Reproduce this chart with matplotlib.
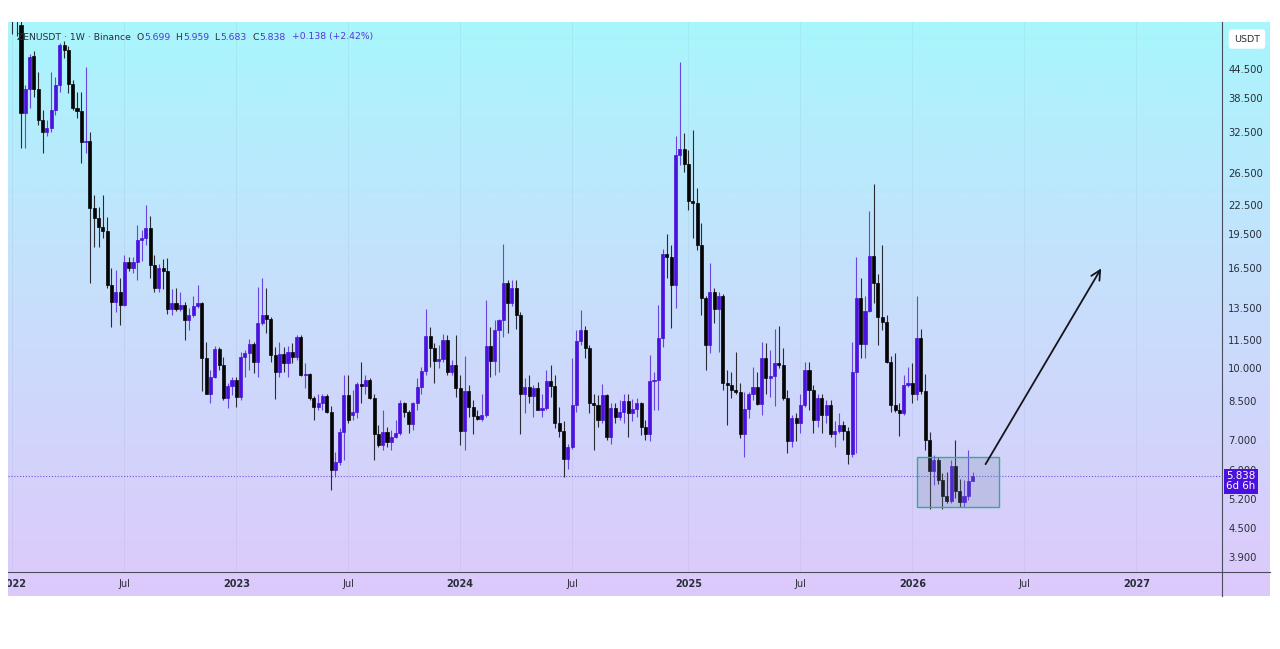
import numpy as np
import pandas as pd
import matplotlib
matplotlib.use("Agg")
import matplotlib.pyplot as plt
import matplotlib.dates as mdates
import matplotlib.transforms as mtransforms
from matplotlib.patches import Rectangle
from matplotlib.lines import Line2D
from matplotlib.ticker import NullLocator

# ---------------- data ----------------
dates = pd.date_range("2022-01-03", periods=224, freq="7D")

opens = [62, 58, 55.5, 35.7, 40.2, 47.4, 40.2, 34.5, 32.4, 33.1,
         36.2, 41.0, 50.1, 48.8, 41.2, 36.6, 36.0, 30.9, 31.0, 22.2,
         21.1, 20.2, 19.8, 15.1, 13.9, 14.6, 13.7, 17.0, 16.5, 17.0,
         18.9, 19.1, 20.1, 16.7, 14.9, 16.5, 16.2, 13.4, 13.8, 13.4,
         13.7, 12.7, 13.05, 13.6, 13.8, 10.5, 8.8, 9.58, 10.97, 10.15,
         8.6, 9.16, 9.42, 8.66, 10.55, 10.8, 11.3, 10.3, 12.5, 13.0,
         12.8, 10.67, 9.8, 10.75, 10.27, 10.85, 10.55, 11.65, 9.66, 9.7,
         8.6, 8.22, 8.4, 8.7, 8.04, 6.01, 6.27, 7.28, 8.74, 7.9,
         8.05, 9.24, 9.15, 9.42, 8.6, 7.2, 6.81, 7.28, 6.92, 7.1,
         7.25, 8.38, 8.04, 7.56, 8.38, 9.08, 9.87, 11.73, 11.03, 10.37,
         10.47, 11.5, 9.82, 10.15, 9.03, 7.31, 8.94, 8.25, 7.87, 7.75,
         7.9, 11.16, 10.37, 12.1, 12.7, 15.3, 13.8, 14.9, 13.03, 8.8,
         9.1, 8.7, 9.03, 8.11, 8.2, 9.38, 9.14, 7.6, 7.31, 6.34,
         6.75, 8.31, 11.46, 12.1, 11.03, 8.38, 8.31, 7.72, 8.74, 7.08,
         8.2, 7.84, 8.04, 8.49, 7.99, 8.15, 8.4, 7.47, 7.2, 9.38,
         9.42, 11.6, 17.65, 17.4, 15.13, 28.9, 29.8, 27.7, 23.0, 22.8,
         18.5, 14.2, 11.22, 14.6, 13.4, 14.3, 9.27, 9.2, 8.96, 8.86,
         7.2, 8.15, 8.78, 9.1, 8.36, 10.5, 9.5, 9.62, 10.27, 10.15,
         8.6, 6.94, 7.78, 7.6, 8.31, 9.9, 8.96, 7.7, 8.6, 7.91,
         8.31, 7.2, 7.31, 7.53, 7.31, 6.51, 9.82, 14.2, 11.27, 13.3,
         17.5, 15.3, 12.9, 12.6, 10.33, 8.31, 8.11, 8.0, 9.19, 9.27,
         8.8, 11.6, 8.94, 7.0, 5.99, 6.32, 5.72, 5.28, 5.14, 6.13,
         5.42, 5.12, 5.28, 5.699]

highs = [68, 61, 56.5, 41.0, 47.9, 48.6, 43.8, 36.2, 34.5, 43.8,
         42.7, 50.6, 51.0, 49.9, 42.0, 39.6, 39.6, 44.9, 32.4, 23.7,
         22.3, 23.7, 21.2, 16.5, 16.3, 15.7, 17.6, 17.4, 17.4, 20.4,
         19.9, 22.6, 21.4, 17.6, 16.8, 17.2, 17.3, 14.8, 14.9, 14.6,
         13.9, 13.5, 14.3, 15.1, 13.9, 11.4, 9.9, 11.15, 11.1, 10.55,
         9.27, 9.58, 9.58, 10.85, 10.94, 11.55, 11.4, 15.0, 15.65, 14.9,
         12.9, 11.1, 11.4, 11.1, 11.15, 11.35, 11.8, 11.8, 10.25, 9.75,
         8.7, 8.8, 8.8, 8.8, 8.27, 6.59, 7.4, 9.64, 9.64, 8.96,
         9.34, 10.33, 9.64, 9.5, 8.8, 7.53, 8.11, 7.47, 7.34, 7.72,
         8.52, 8.45, 8.11, 8.45, 9.5, 10.07, 13.4, 12.28, 11.33, 11.22,
         11.88, 11.79, 10.41, 11.79, 9.64, 10.62, 9.19, 8.52, 8.11, 8.8,
         14.04, 12.28, 12.7, 12.8, 18.6, 15.55, 15.5, 15.55, 13.2, 9.5,
         9.66, 9.19, 9.34, 8.78, 9.9, 10.15, 9.64, 8.25, 7.66, 6.86,
         10.5, 12.09, 13.35, 12.34, 11.22, 8.8, 8.74, 9.24, 8.8, 8.38,
         8.38, 8.52, 8.8, 8.78, 8.55, 8.6, 8.45, 7.72, 10.67, 9.82,
         13.7, 18.1, 19.5, 18.5, 31.9, 46.0, 32.3, 29.7, 32.8, 24.5,
         20.6, 14.3, 16.85, 14.9, 14.6, 14.5, 9.9, 9.82, 10.85, 9.27,
         8.86, 8.86, 10.07, 9.82, 11.4, 11.33, 10.94, 12.13, 12.34, 11.03,
         8.96, 7.91, 7.98, 8.8, 10.33, 10.33, 9.19, 8.8, 8.8, 8.52,
         8.52, 7.66, 7.98, 7.66, 7.47, 11.4, 17.4, 15.65, 14.3, 21.9,
         25.0, 16.0, 18.5, 13.03, 10.6, 10.8, 8.38, 9.64, 10.07, 10.25,
         14.3, 12.15, 9.7, 7.28, 6.48, 6.42, 5.93, 5.95, 6.32, 6.98,
         5.74, 5.72, 6.64, 5.959]

lows = [53, 52.5, 30.0, 30.0, 36.6, 38.6, 33.6, 29.2, 31.8, 32.4,
        35.3, 39.6, 47.0, 39.4, 36.2, 34.8, 27.8, 29.2, 15.3, 18.3,
        18.3, 19.1, 14.9, 12.3, 13.2, 12.4, 13.6, 16.2, 16.1, 15.5,
        17.1, 18.5, 15.7, 14.6, 14.6, 14.8, 13.1, 13.0, 13.3, 13.3,
        11.5, 12.1, 12.9, 13.5, 8.9, 8.78, 8.38, 9.5, 9.9, 8.52,
        8.18, 8.74, 8.25, 8.52, 9.58, 9.9, 9.74, 9.55, 12.4, 11.9,
        10.33, 8.55, 9.58, 9.82, 9.58, 10.25, 10.4, 9.6, 9.05, 8.52,
        7.7, 8.11, 8.11, 8.0, 5.44, 5.8, 6.16, 6.32, 7.6, 7.7,
        7.79, 8.38, 8.8, 8.55, 6.32, 6.75, 6.64, 6.75, 6.64, 7.05,
        7.16, 7.84, 7.22, 7.34, 8.11, 8.8, 9.64, 10.07, 9.27, 9.98,
        10.33, 9.66, 9.66, 8.67, 6.81, 6.64, 7.84, 7.2, 7.7, 7.66,
        7.84, 9.58, 9.66, 9.8, 11.7, 11.9, 13.6, 12.15, 7.2, 8.0,
        8.38, 7.82, 8.11, 7.84, 8.11, 8.67, 7.4, 7.1, 5.8, 6.03,
        6.67, 8.04, 11.22, 10.5, 8.0, 6.64, 7.47, 7.6, 7.0, 6.86,
        7.62, 7.72, 7.6, 7.1, 7.66, 7.84, 7.16, 6.98, 6.94, 8.11,
        8.11, 11.1, 15.65, 12.2, 13.5, 27.5, 26.6, 22.0, 19.1, 18.0,
        13.03, 9.9, 10.76, 12.5, 10.85, 8.96, 7.53, 8.6, 8.8, 7.04,
        6.42, 7.78, 8.52, 8.31, 7.91, 8.8, 8.67, 8.27, 10.0, 8.52,
        6.55, 6.75, 6.94, 7.22, 8.25, 8.11, 7.22, 7.47, 7.22, 7.6,
        7.1, 6.75, 7.22, 6.98, 6.21, 6.42, 6.55, 10.5, 10.5, 13.2,
        13.8, 11.22, 12.1, 10.25, 8.04, 8.04, 7.12, 7.91, 9.1, 8.38,
        8.52, 8.8, 6.64, 4.96, 5.58, 5.61, 4.96, 5.09, 5.09, 5.22,
        5.01, 5.0, 5.18, 5.683]

closes = [58, 57.5, 35.7, 40.2, 47.2, 40.2, 34.5, 32.4, 33.1, 36.2,
          41.0, 50.1, 48.8, 41.2, 36.6, 36.0, 30.9, 31.0, 22.2, 21.1,
          20.2, 19.8, 15.1, 13.9, 14.6, 13.7, 17.0, 16.5, 17.0, 18.9,
          19.1, 20.1, 16.7, 14.9, 16.5, 16.2, 13.4, 13.8, 13.4, 13.7,
          12.7, 13.05, 13.6, 13.8, 10.5, 8.8, 9.58, 10.97, 10.15, 8.6,
          9.16, 9.42, 8.66, 10.55, 10.8, 11.3, 10.3, 12.5, 13.0, 12.8,
          10.67, 9.8, 10.75, 10.27, 10.85, 10.55, 11.65, 9.66, 9.7, 8.6,
          8.22, 8.4, 8.7, 8.04, 6.01, 6.27, 7.28, 8.74, 7.72, 8.05,
          9.24, 9.15, 9.42, 8.6, 7.2, 6.81, 7.28, 6.92, 7.1, 7.25,
          8.38, 8.04, 7.56, 8.38, 9.08, 9.87, 11.73, 11.03, 10.37, 10.47,
          11.5, 9.82, 10.15, 9.03, 7.31, 8.94, 8.25, 7.87, 7.75, 7.9,
          11.16, 10.37, 12.1, 12.7, 15.3, 13.8, 14.9, 13.03, 8.8, 9.1,
          8.7, 9.03, 8.11, 8.2, 9.38, 9.14, 7.6, 7.31, 6.34, 6.75,
          8.31, 11.46, 12.1, 11.03, 8.38, 8.31, 7.72, 8.74, 7.08, 8.2,
          7.84, 8.04, 8.49, 7.99, 8.15, 8.4, 7.47, 7.2, 9.38, 9.42,
          11.6, 17.65, 17.4, 15.13, 28.9, 29.8, 27.7, 23.0, 22.8, 18.5,
          14.2, 11.22, 14.6, 13.4, 14.3, 9.27, 9.2, 8.96, 8.86, 7.2,
          8.15, 8.78, 9.1, 8.36, 10.5, 9.5, 9.62, 10.27, 10.15, 8.6,
          6.94, 7.78, 7.6, 8.31, 9.9, 8.96, 7.7, 8.6, 7.91, 8.31,
          7.2, 7.31, 7.53, 7.31, 6.51, 9.82, 14.2, 11.27, 13.3, 17.5,
          15.3, 12.9, 12.6, 10.33, 8.31, 8.11, 8.0, 9.19, 9.27, 8.8,
          11.6, 8.94, 7.0, 5.99, 6.32, 5.72, 5.28, 5.14, 6.13, 5.42,
          5.12, 5.28, 5.699, 5.838]

price_ticks = [44.5, 38.5, 32.5, 26.5, 22.5, 19.5, 16.5, 13.5, 11.5, 10.0,
               8.5, 7.0, 6.0, 5.2, 4.5, 3.9]
time_tick_dates = ["2022-01-03", "2022-07-04", "2023-01-02", "2023-07-03",
                   "2024-01-01", "2024-07-01", "2025-01-06", "2025-07-07",
                   "2026-01-05", "2026-07-06", "2027-01-04"]
time_tick_labels = ["2022", "Jul", "2023", "Jul", "2024", "Jul", "2025",
                    "Jul", "2026", "Jul", "2027"]
last_price = 5.838
box_dates = ["2026-01-13", "2026-05-26"]
box_prices = [5.01, 6.41]
arrow_dates = ["2026-05-04", "2026-11-08"]
arrow_prices = [6.19, 16.44]

header_parts = [("ZENUSDT · 1W · Binance", "dark"), ("  O", "dark"),
                ("5.699", "val"), ("  H", "dark"), ("5.959", "val"),
                ("  L", "dark"), ("5.683", "val"), ("  C", "dark"),
                ("5.838", "val"), ("  +0.138 (+2.42%)", "val")]

# ---------------- styling ----------------
W, H = 1280, 649
UP = "#4a12dc"
UP_WICK = "#6a45e2"
DOWN = "#050505"
DOWN_WICK = "#2b2b33"
TXT = "#2a2e39"
VAL = "#5335d8"

fig = plt.figure(figsize=(W / 100, H / 100), dpi=100)
fig.patch.set_facecolor("white")


def fx(px):
    return px / W


def fy(py):
    return 1 - py / H


# gradient background for whole chart region
bg = fig.add_axes([fx(8), fy(596), fx(1270) - fx(8), fy(22) - fy(596)])
stops_pos = [0.0, 0.45, 1.0]
stops_col = np.array([[168, 246, 252], [198, 224, 252], [221, 201, 251]]) / 255
t = np.linspace(0, 1, 400)
grad = np.stack([np.interp(t, stops_pos, stops_col[:, k]) for k in range(3)], axis=1)
bg.imshow(grad[:, None, :], aspect="auto", extent=[0, 1, 0, 1])
bg.set_axis_off()

# main price axes
ax = fig.add_axes([fx(8), fy(572), fx(1222) - fx(8), fy(22) - fy(572)])
ax.set_facecolor("none")
for s in ax.spines.values():
    s.set_visible(False)

x = mdates.date2num(dates)
o = np.array(opens)
h = np.array(highs)
l = np.array(lows)
c = np.array(closes)
up = c >= o
body_col = np.where(up, UP, DOWN)
wick_col = np.where(up, UP_WICK, DOWN_WICK)

ax.set_yscale("log")
ax.vlines(x, l, h, colors=wick_col, linewidth=0.8, zorder=2)
ax.bar(x, np.abs(c - o), bottom=np.minimum(o, c), width=5.0,
       color=body_col, edgecolor=body_col, linewidth=0.5, zorder=3)

ax.axhline(last_price, color="#6a55d8", lw=0.8, ls=(0, (1, 1.6)), zorder=1)

ax.set_ylim(3.615, 56.2)
ax.set_xlim(x[0] - 7.15, x[0] + 1966.4)

ax.yaxis.tick_right()
ax.yaxis.set_minor_locator(NullLocator())
ax.set_yticks(price_ticks)
ax.set_yticklabels([f"{p:.3f}" for p in price_ticks])
ax.tick_params(axis="y", length=0, pad=4.5, labelsize=7.2, labelcolor=TXT)

tick_x = mdates.date2num(pd.to_datetime(time_tick_dates))
ax.set_xticks(tick_x)
ax.tick_params(axis="x", bottom=False, labelbottom=False)
ax.grid(axis="x", color="#7890a8", alpha=0.12, lw=0.7)
ax.grid(axis="y", visible=False)

# rectangle (box)
bx = mdates.date2num(pd.to_datetime(box_dates))
ax.add_patch(Rectangle((bx[0], box_prices[0]), bx[1] - bx[0],
                       box_prices[1] - box_prices[0],
                       facecolor=(0.42, 0.52, 0.62, 0.22),
                       edgecolor="#3aa896", lw=1.0, zorder=4))

# arrow
axd = mdates.date2num(pd.to_datetime(arrow_dates))
ax.annotate("", xy=(axd[1], arrow_prices[1]), xytext=(axd[0], arrow_prices[0]),
            arrowprops=dict(arrowstyle="->", color="#15151a", lw=1.3,
                            mutation_scale=17, shrinkA=0, shrinkB=0),
            zorder=5)

# header
HFS = 6.7
prev = ax.text((17 - 8) / 1214, (572 - 37) / 550,
               header_parts[0][0], transform=ax.transAxes, fontsize=HFS,
               color=TXT, va="center", ha="left", zorder=6)
for txt, kind in header_parts[1:]:
    prev = ax.annotate(txt, xy=(1, 0), xycoords=prev, va="bottom", ha="left",
                       fontsize=HFS, color=TXT if kind == "dark" else VAL,
                       zorder=6)

# last price label on the price scale
blend = mtransforms.blended_transform_factory(ax.transAxes, ax.transData)
ax.annotate("5.838\n6d 6h", xy=(1, last_price), xycoords=blend,
            xytext=(3.2, -4.0), textcoords="offset points",
            va="center", ha="left", fontsize=7.4, color="white",
            linespacing=1.0, annotation_clip=False, zorder=10,
            bbox=dict(boxstyle="square,pad=0.25", fc="#4a10e0", ec="none"))

# time axis strip
ax_t = fig.add_axes([fx(8), fy(596), fx(1222) - fx(8), fy(572) - fy(596)])
ax_t.set_facecolor("none")
ax_t.set_xlim(ax.get_xlim())
ax_t.set_ylim(0, 1)
ax_t.set_axis_off()
for tx, lab in zip(tick_x, time_tick_labels):
    ax_t.text(tx, 0.5, lab, ha="center", va="center", fontsize=7,
              fontweight="bold" if lab != "Jul" else "normal",
              color=TXT, clip_on=True)

# separator lines
fig.add_artist(Line2D([fx(1222), fx(1222)], [fy(22), fy(596)], color="#4a4e5a", lw=0.8))
fig.add_artist(Line2D([fx(8), fx(1270)], [fy(572), fy(572)], color="#4a4e5a", lw=0.8))

# currency label box
fig.text(fx(1247), fy(39), "USDT", ha="center", va="center", fontsize=6.8,
         color=TXT, bbox=dict(boxstyle="round,pad=0.55,rounding_size=0.3",
                              fc="white", ec="none"))

fig.savefig("out.png", dpi=100, facecolor="white")
